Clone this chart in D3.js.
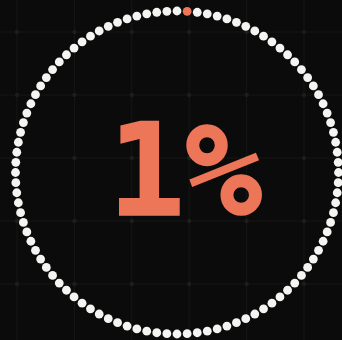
<!DOCTYPE html>
<html>
<head>
<meta charset="utf-8">
<script src="https://cdn.jsdelivr.net/npm/d3@7"></script>
<style>
	html, body { margin: 0; padding: 0; background: #0b0b0b; }
	svg { display: block; }
</style>
</head>
<body>
<div id="chart"></div>
<script>
// data
const percentValue = [1];
const totalDots = [100];
const labels = ["1%"];

const params = {
	selector: "#chart",
	width: 342,
	height: 340,
	cx: 177,
	cy: 172.5,
	radius: 161.5,
	dotR: 4.4,
	accent: "#ee7658",
	dotColor: "#f4f4f2"
};

const makeContainer = (params) => {
	const container = d3.select(params.selector)
		.append("svg")
		.attr("width", params.width)
		.attr("height", params.height)
	container.append("rect")
		.attr("width", params.width)
		.attr("height", params.height)
		.attr("fill", "#0b0b0b")
	return container;
}

// faint background grid
const addGrid = (container, params) => {
	const xs = d3.range(17, params.width, 57.4)
	const ys = d3.range(32, params.height, 63)
	const g = container.append("g")
	g.selectAll(".vline").data(xs).join("line")
		.attr("x1", d => d).attr("x2", d => d)
		.attr("y1", 0).attr("y2", params.height)
		.attr("stroke", "#171717").attr("stroke-width", 1)
	g.selectAll(".hline").data(ys).join("line")
		.attr("y1", d => d).attr("y2", d => d)
		.attr("x1", 0).attr("x2", params.width)
		.attr("stroke", "#171717").attr("stroke-width", 1)
	const pts = []
	for (let x of xs) for (let y of ys) pts.push([x, y])
	g.selectAll("circle").data(pts).join("circle")
		.attr("cx", d => d[0]).attr("cy", d => d[1])
		.attr("r", 2.2).attr("fill", "#1d1d1d")
}

const makeDots = (container, params) => {
	const n = totalDots[0]
	const angle = d3.scaleLinear().domain([0, n]).range([0, 2 * Math.PI])
	const dots = d3.range(1, n + 1)
	container.append("g")
		.selectAll("circle")
		.data(dots)
		.join("circle")
		.attr("cx", d => params.cx + params.radius * Math.sin(angle(d)))
		.attr("cy", d => params.cy - params.radius * Math.cos(angle(d)))
		.attr("r", params.dotR)
		.attr("fill", d => d <= percentValue[0] ? params.accent : params.dotColor)
}

const addLabel = (container, params) => {
	container.append("text")
		.attr("x", 185)
		.attr("y", 215)
		.attr("text-anchor", "middle")
		.attr("font-family", "'DejaVu Sans Mono', monospace")
		.attr("font-weight", "bold")
		.attr("font-size", 128)
		.attr("fill", params.accent)
		.attr("stroke", params.accent)
		.attr("stroke-width", 1.5)
		.text(labels[0])
}

const container = makeContainer(params);
addGrid(container, params);
makeDots(container, params);
addLabel(container, params);
</script>
</body>
</html>
